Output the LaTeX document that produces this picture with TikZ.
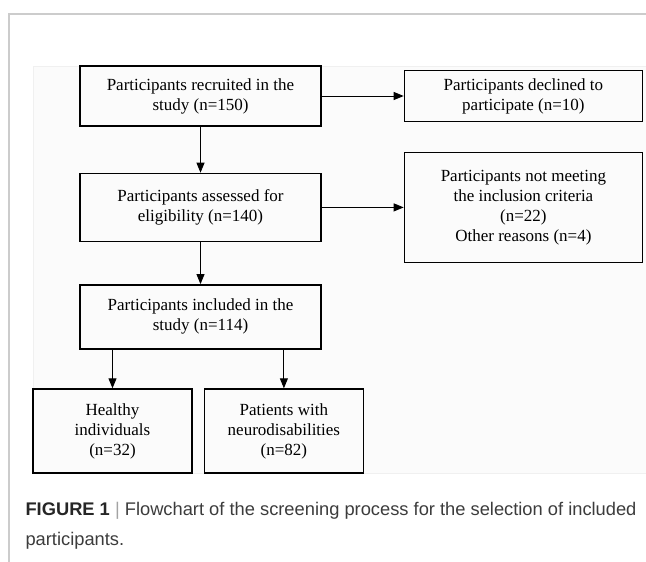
\documentclass[tikz,border=0pt]{standalone}
\usepackage{fontspec}
\setmainfont{Liberation Serif}
\newfontfamily\capfont{Liberation Sans}
\usetikzlibrary{arrows.meta,positioning}
\definecolor{frm}{HTML}{CCCCCC}
\definecolor{cap}{HTML}{3C3C3C}
\definecolor{bgl}{HTML}{FBFBFB}
\definecolor{bge}{HTML}{F0F0F0}

\begin{document}
\begin{tikzpicture}[x=1pt, y=-1pt, >={Triangle[length=10pt,width=8pt]},
  font=\fontsize{17}{20}\selectfont,
  stage/.style={draw, line width=1.4pt, align=center, inner sep=0pt, minimum width=241pt},
  side/.style={stage, minimum width=238pt},
  leaf/.style={stage, minimum width=159pt, minimum height=84pt},
  flow/.style={->, line width=0.9pt},
  captxt/.style={anchor=west, text=cap, font=\capfont\fontsize{18.3}{22}\selectfont}]
\useasboundingbox (0,0) rectangle (646,562);
% frame and backdrop
\draw[frm, line width=2pt] (9,562) -- (9,14) -- (646,14);
\filldraw[fill=bgl, draw=bge, line width=0.5pt] (33,66) rectangle (647,473);
% screening steps
\node[stage, minimum height=60pt] (rec) at (200.5,96) {Participants recruited in the\\study (n=150)};
\node[side, minimum height=51pt, right=82pt of rec] (dec) {Participants declined to\\participate (n=10)};
\node[stage, minimum height=68pt, below=46pt of rec] (ass) {Participants assessed for\\eligibility (n=140)};
\node[side, minimum height=110pt, right=82pt of ass] (exc) {Participants not meeting\\the inclusion criteria\\(n=22)\\Other reasons (n=4)};
\node[stage, minimum height=64pt, below=42pt of ass] (inc) {Participants included in the\\study (n=114)};
\node[leaf] (hea) at (112.5,431) {Healthy\\individuals\\(n=32)};
\node[leaf, right=11pt of hea] (pat) {Patients with\\neurodisabilities\\(n=82)};
\draw[flow] (rec) -- (dec);
\draw[flow] (rec) -- (ass);
\draw[flow] (ass) -- (exc);
\draw[flow] (ass) -- (inc);
\draw[flow] (inc.south -| hea) -- (hea);
\draw[flow] (inc.south -| pat) -- (pat);
% caption
\node[captxt] (capa) at (22,511) {\textbf{\color{black!85}FIGURE 1} {\color{frm!80!black}|} Flowchart of the screening process for the selection of included};
\node[captxt] (capb) at (22,541) {participants.};
\end{tikzpicture}
\end{document}
